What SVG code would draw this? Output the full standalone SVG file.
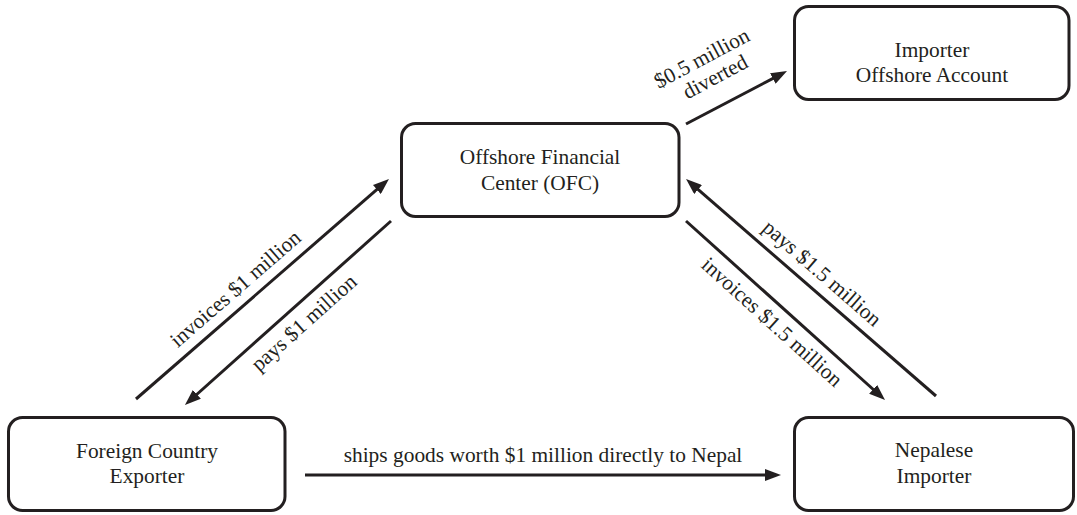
<svg xmlns="http://www.w3.org/2000/svg" width="1077" height="515" viewBox="0 0 1077 515">
<style>
.box{fill:#fff;stroke:#231f20;stroke-width:3}
.t{font-family:"Liberation Serif","Times New Roman",serif;font-size:21.4px;fill:#231f20;text-anchor:middle}
.c{stroke:#231f20;stroke-width:3;fill:none;marker-end:url(#ah)}
</style>
<defs>
<marker id="ah" markerUnits="userSpaceOnUse" markerWidth="16" markerHeight="12" refX="4" refY="6" orient="auto" viewBox="0 0 16 12">
<path d="M0,0 L16,6 L0,12 z" fill="#231f20"/>
</marker>
</defs>
<rect width="1077" height="515" fill="#fff"/>
<g id="ofc">
<rect class="box" x="401.5" y="123.5" width="277.5" height="93" rx="14"/>
<text class="t" x="540" y="164">Offshore Financial</text>
<text class="t" x="540" y="190">Center (OFC)</text>
</g>
<g id="importer-offshore">
<rect class="box" x="794.5" y="6.5" width="274.5" height="93" rx="14"/>
<text class="t" x="932" y="57">Importer</text>
<text class="t" x="932" y="82">Offshore Account</text>
</g>
<g id="foreign-exporter">
<rect class="box" x="8.5" y="417.5" width="276.5" height="93" rx="14"/>
<text class="t" x="147" y="458">Foreign Country</text>
<text class="t" x="147" y="483">Exporter</text>
</g>
<g id="nepalese-importer">
<rect class="box" x="794.5" y="417.5" width="279" height="93" rx="14"/>
<text class="t" x="934" y="457">Nepalese</text>
<text class="t" x="934" y="483">Importer</text>
</g>
<g id="connectors">
<line class="c" x1="136" y1="399" x2="379.9" y2="186.9"/>
<line class="c" x1="391" y1="221" x2="193.9" y2="397"/>
<line class="c" x1="936" y1="396" x2="695.1" y2="186.9"/>
<line class="c" x1="686" y1="221" x2="876.1" y2="392"/>
<line class="c" x1="305" y1="475" x2="769" y2="475"/>
<line class="c" x1="686" y1="124" x2="776.4" y2="76.6"/>
<text class="t" x="240" y="294" transform="rotate(-41 240 294)">invoices $1 million</text>
<text class="t" x="308.5" y="328" transform="rotate(-41.8 308.5 328)">pays $1 million</text>
<text class="t" x="817.5" y="278.5" transform="rotate(41 817.5 278.5)">pays $1.5 million</text>
<text class="t" x="767.3" y="327.2" transform="rotate(42 767.3 327.2)">invoices $1.5 million</text>
<text class="t" x="543" y="462">ships goods worth $1 million directly to Nepal</text>
<text class="t" x="705" y="64.5" transform="rotate(-28 705 64.5)">$0.5 million</text>
<text class="t" x="718.5" y="83" transform="rotate(-28 718.5 83)">diverted</text>
</g>
</svg>
